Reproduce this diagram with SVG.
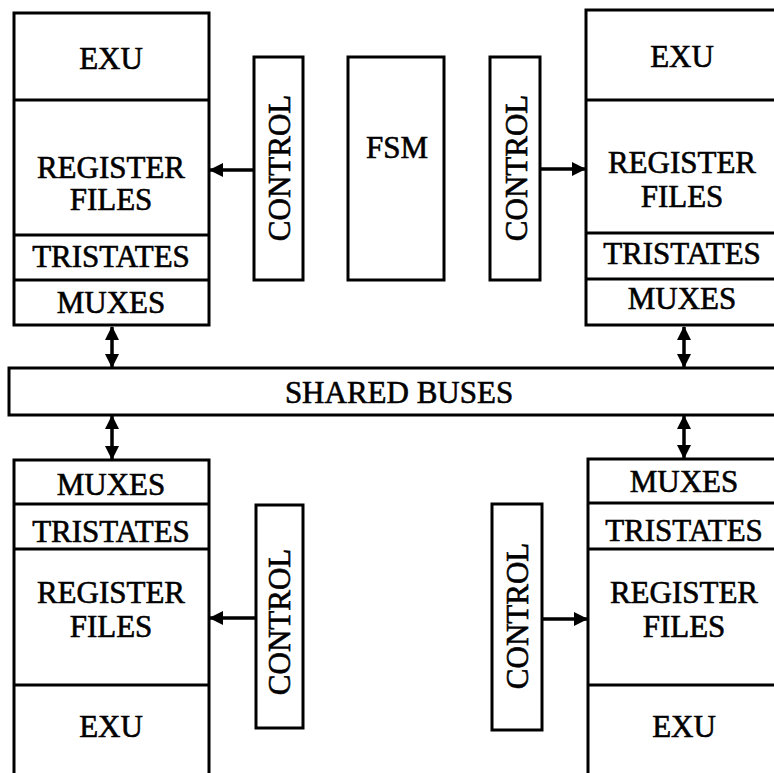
<svg xmlns="http://www.w3.org/2000/svg" width="774" height="773" viewBox="0 0 774 773">
<style>
.b{fill:#fff;stroke:#000;stroke-width:3}
.d{stroke:#000;stroke-width:3;fill:none}
.t{font-family:"Liberation Serif","Times New Roman",serif;font-size:31px;fill:#000;stroke:#000;stroke-width:0.6;text-anchor:middle}
.c{stroke:#000;stroke-width:3.5;fill:none}
</style>
<defs>
<marker id="ah" viewBox="0 0 14 14" refX="13" refY="7" markerWidth="14" markerHeight="14" markerUnits="userSpaceOnUse" orient="auto-start-reverse">
<path d="M0,0 L14,7 L0,14 Z" fill="#000"/>
</marker>
</defs>
<rect width="774" height="773" fill="#fff"/>
<g id="tl-block">
<rect class="b" x="14" y="13" width="195" height="312"/>
<line class="d" x1="14" y1="100" x2="209" y2="100"/>
<line class="d" x1="14" y1="235" x2="209" y2="235"/>
<line class="d" x1="14" y1="280" x2="209" y2="280"/>
<text class="t" x="111" y="69">EXU</text>
<text class="t" x="111" y="178">REGISTER</text>
<text class="t" x="111" y="210">FILES</text>
<text class="t" x="111" y="267">TRISTATES</text>
<text class="t" x="111" y="313">MUXES</text>
</g>
<g id="tr-block">
<rect class="b" x="586" y="10" width="200" height="315"/>
<line class="d" x1="586" y1="100" x2="786" y2="100"/>
<line class="d" x1="586" y1="233" x2="786" y2="233"/>
<line class="d" x1="586" y1="279" x2="786" y2="279"/>
<text class="t" x="682" y="67">EXU</text>
<text class="t" x="682" y="173">REGISTER</text>
<text class="t" x="682" y="207">FILES</text>
<text class="t" x="682" y="264">TRISTATES</text>
<text class="t" x="682" y="309">MUXES</text>
</g>
<g id="bl-block">
<rect class="b" x="14" y="460" width="195" height="330"/>
<line class="d" x1="14" y1="504" x2="209" y2="504"/>
<line class="d" x1="14" y1="549" x2="209" y2="549"/>
<line class="d" x1="14" y1="685" x2="209" y2="685"/>
<text class="t" x="111" y="495">MUXES</text>
<text class="t" x="111" y="542">TRISTATES</text>
<text class="t" x="111" y="603">REGISTER</text>
<text class="t" x="111" y="637">FILES</text>
<text class="t" x="111" y="737">EXU</text>
</g>
<g id="br-block">
<rect class="b" x="588" y="459" width="200" height="330"/>
<line class="d" x1="588" y1="503" x2="788" y2="503"/>
<line class="d" x1="588" y1="549" x2="788" y2="549"/>
<line class="d" x1="588" y1="685" x2="788" y2="685"/>
<text class="t" x="684" y="492">MUXES</text>
<text class="t" x="684" y="541">TRISTATES</text>
<text class="t" x="684" y="603">REGISTER</text>
<text class="t" x="684" y="637">FILES</text>
<text class="t" x="684" y="737">EXU</text>
</g>
<g id="shared-buses">
<rect class="b" x="9" y="368" width="780" height="47"/>
<text class="t" x="399" y="403">SHARED BUSES</text>
</g>
<g id="fsm">
<rect class="b" x="348" y="57" width="96" height="223"/>
<text class="t" x="397" y="158">FSM</text>
</g>
<g id="control-tl">
<rect class="b" x="254" y="57" width="49" height="223"/>
<text class="t" transform="translate(290,168) rotate(-90)">CONTROL</text>
</g>
<g id="control-tr">
<rect class="b" x="490" y="57" width="50" height="223"/>
<text class="t" transform="translate(527,168) rotate(-90)">CONTROL</text>
</g>
<g id="control-bl">
<rect class="b" x="256" y="505" width="47" height="223"/>
<text class="t" transform="translate(290,622) rotate(-90)">CONTROL</text>
</g>
<g id="control-br">
<rect class="b" x="492" y="504" width="50" height="226"/>
<text class="t" transform="translate(528,616) rotate(-90)">CONTROL</text>
</g>
<g id="connectors">
<line class="c" x1="254" y1="170" x2="210" y2="170" marker-end="url(#ah)"/>
<line class="c" x1="540" y1="169" x2="585" y2="169" marker-end="url(#ah)"/>
<line class="c" x1="256" y1="618" x2="210" y2="618" marker-end="url(#ah)"/>
<line class="c" x1="542" y1="619" x2="587" y2="619" marker-end="url(#ah)"/>
<line class="c" x1="112" y1="327" x2="112" y2="367" marker-start="url(#ah)" marker-end="url(#ah)"/>
<line class="c" x1="684" y1="327" x2="684" y2="367" marker-start="url(#ah)" marker-end="url(#ah)"/>
<line class="c" x1="112" y1="416" x2="112" y2="459" marker-start="url(#ah)" marker-end="url(#ah)"/>
<line class="c" x1="684" y1="416" x2="684" y2="458" marker-start="url(#ah)" marker-end="url(#ah)"/>
</g>
</svg>
